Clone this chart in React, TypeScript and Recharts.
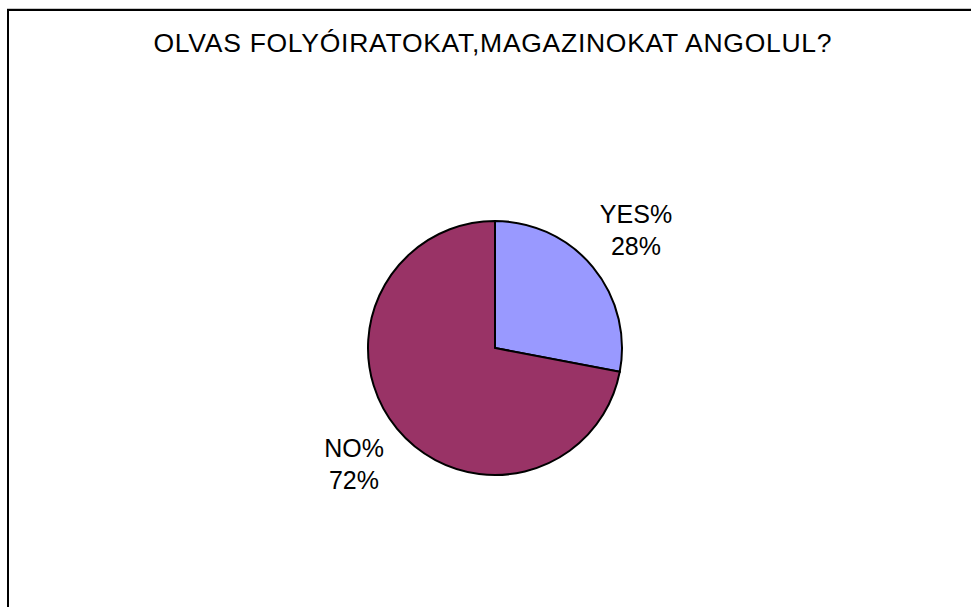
import { PieChart, Pie, Cell } from "recharts"

const title = "OLVAS FOLYÓIRATOKAT,MAGAZINOKAT ANGOLUL?"
const categories = ["YES%", "NO%"]
const values = [28, 72]
const colors = ["#9999FF", "#993366"]

const data = categories.map((name, i) => ({ name, value: values[i] }))

const RADIAN = Math.PI / 180
const FONT = "Arial, 'Liberation Sans', sans-serif"

const renderLabel = (props: any) => {
    const { cx, cy, midAngle, outerRadius, name, percent } = props
    const r = outerRadius + 56
    const x = cx + r * Math.cos(-midAngle * RADIAN)
    const y = cy + r * Math.sin(-midAngle * RADIAN)
    return (
        <text x={x} y={y} textAnchor="middle" fill="#000" fontSize={25} fontFamily={FONT}>
            <tspan x={x} y={y - 8}>{name}</tspan>
            <tspan x={x} y={y + 24}>{Math.round(percent * 100)}%</tspan>
        </text>
    )
}

export default function App() {
    return (
        <div style={{ position: "absolute", left: 0, top: 0, width: 971, height: 607, overflow: "hidden", background: "#fff" }}>
            {/* frame of the chart area, runs off the right and bottom edges */}
            <div style={{ position: "absolute", left: 7, top: 8, width: 990, height: 1, background: "#c8c8c8" }} />
            <div style={{ position: "absolute", left: 7, top: 9, width: 990, height: 640, border: "2px solid #000" }} />
            <svg width={971} height={607} style={{ position: "absolute", left: 0, top: 0 }}>
                <text x={492.5} y={51.5} textAnchor="middle" fontSize={26.5} fontFamily={FONT} fill="#000"
                    textLength={678} lengthAdjust="spacing">{title}</text>
            </svg>
            <div style={{ position: "absolute", left: 0, top: 0 }}>
                <PieChart width={971} height={607} margin={{ top: 0, right: 0, bottom: 0, left: 0 }}>
                    <Pie
                        data={data}
                        dataKey="value"
                        nameKey="name"
                        cx={495}
                        cy={348}
                        outerRadius={127}
                        startAngle={90}
                        endAngle={-270}
                        stroke="#000"
                        strokeWidth={2}
                        label={renderLabel}
                        labelLine={false}
                        isAnimationActive={false}
                    >
                        {data.map((d, i) => (
                            <Cell key={d.name} fill={colors[i]} />
                        ))}
                    </Pie>
                </PieChart>
            </div>
        </div>
    )
}
